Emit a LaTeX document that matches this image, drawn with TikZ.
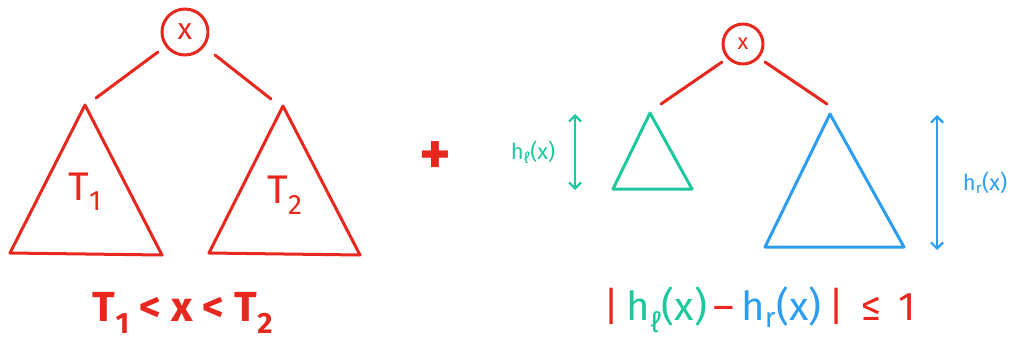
\documentclass[tikz,border=0pt]{standalone}
\usepackage{fontspec}
\setmainfont{Fira Sans}
\definecolor{redpen}{HTML}{E8281E}
\definecolor{greenpen}{HTML}{1EC89E}
\definecolor{bluepen}{HTML}{2D9DF0}
\usetikzlibrary{arrows.meta}
\begin{document}
\begin{tikzpicture}[x=1pt, y=-1pt,
    pen/.style={line width=3pt, line cap=round, line join=round},
    rootnode/.style={circle, draw=redpen, pen, minimum size=#1, inner sep=0pt, text=redpen},
    edge/.style={pen, draw=redpen},
    height/.style={pen, line width=2.2pt, {Straight Barb[length=6pt,width=12pt]}-{Straight Barb[length=6pt,width=12pt]}}
]
\useasboundingbox (0,0) rectangle (1015,341);
% binary search tree
\node[rootnode=46pt, font=\fontsize{30}{30}\selectfont] (rootA) at (185,32) {x};
\coordinate (topA) at (85,105);
\coordinate (topB) at (283,106);
\draw[edge] (10,253) -- (topA) -- (162,255) -- cycle;
\draw[edge] (209,253) -- (topB) -- (360,255) -- cycle;
\draw[edge] (158,52) -- (96,98);
\draw[edge] (215,55) -- (271,99);
\node[text=redpen, font=\fontsize{40}{40}\selectfont] (labA) at (85,192) {T\textsubscript{1}};
\node[text=redpen, font=\fontsize{40}{40}\selectfont] (labB) at (285,195) {T\textsubscript{2}};
\node[text=redpen, font=\bfseries\fontsize{42}{42}\selectfont] (orderA) at (183,313) {T\textsubscript{1} < x < T\textsubscript{2}};
% plus
\node[text=redpen, font=\bfseries\fontsize{60}{60}\selectfont] (plus) at (435,158) {+};
% AVL tree
\node[rootnode=40pt, font=\fontsize{22}{22}\selectfont] (rootB) at (743,44) {x};
\coordinate (topL) at (650,113);
\coordinate (topR) at (830,114);
\draw[pen, draw=greenpen] (613,189) -- (topL) -- (692,189) -- cycle;
\draw[pen, draw=bluepen] (765,247) -- (topR) -- (904,247) -- cycle;
\draw[edge] (722,62) -- (661,104);
\draw[edge] (765,62) -- (827,104);
\draw[height, draw=greenpen] (575,114) coordinate (hlTop) -- (575,190) coordinate (hlBot);
\node[text=greenpen, font=\fontsize{22}{22}\selectfont] (hlLab) at (533,152) {h\textsubscript{ℓ}(x)};
\draw[height, draw=bluepen] (937,115) coordinate (hrTop) -- (937,250) coordinate (hrBot);
\node[text=bluepen, font=\fontsize{22}{22}\selectfont] (hrLab) at (985,183) {h\textsubscript{r}(x)};
\node[font=\fontsize{40}{40}\selectfont] (balance) at (760,310) {\textcolor{redpen}{|}\,\textcolor{greenpen}{h\textsubscript{ℓ}(x)}\,\textcolor{redpen}{–}\,\textcolor{bluepen}{h\textsubscript{r}(x)}\,\textcolor{redpen}{|\, ≤\, 1}};
\end{tikzpicture}
\end{document}
